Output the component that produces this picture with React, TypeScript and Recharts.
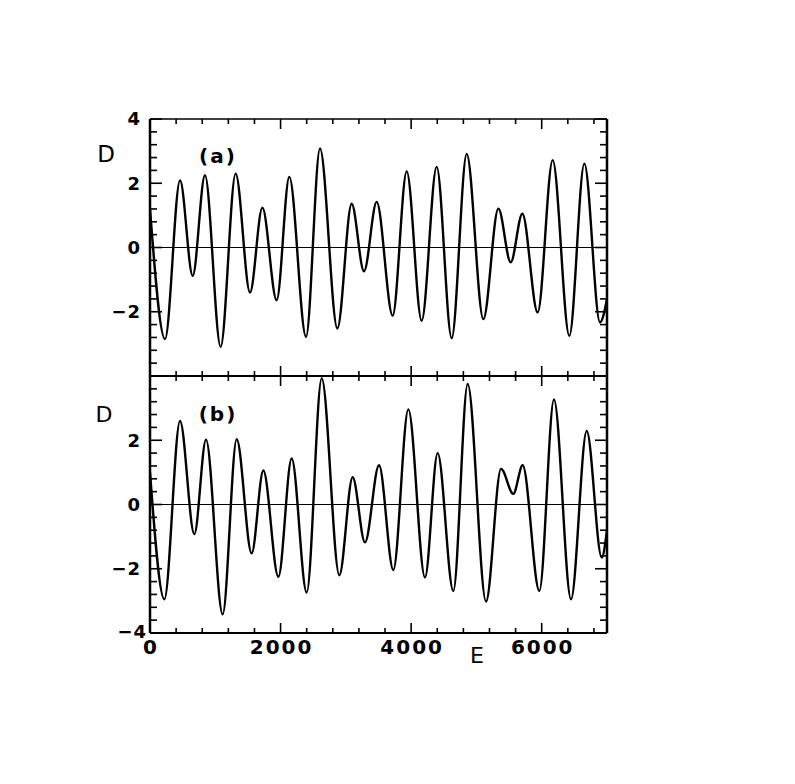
import { Line, LineChart, ReferenceLine, XAxis, YAxis } from "recharts";

const energyA = [
  0, 230, 460, 654, 842, 1082, 1312, 1532, 1721, 1940, 2134, 2390, 2604, 2870,
  3089, 3278, 3472, 3717, 3932, 4161, 4391, 4621, 4851, 5106, 5336, 5525, 5703,
  5938, 6168, 6423, 6653, 6893, 7000,
];
const signalA = [
  1.2, -2.85, 2.09, -0.88, 2.25, -3.09, 2.3, -1.4, 1.24, -1.64, 2.2, -2.78, 3.08,
  -2.52, 1.36, -0.74, 1.42, -2.12, 2.37, -2.28, 2.51, -2.82, 2.91, -2.23, 1.21,
  -0.46, 1.05, -2.02, 2.72, -2.75, 2.61, -2.33, -1.6,
];

// panel (b)
const energyB = [
  0, 220, 460, 679, 858, 1113, 1328, 1557, 1736, 1966, 2170, 2400, 2630, 2900,
  3104, 3293, 3508, 3727, 3957, 4212, 4406, 4646, 4866, 5147, 5377, 5565, 5708,
  5964, 6188, 6449, 6689, 6919, 7000,
];
const signalB = [
  1.0, -2.95, 2.6, -0.92, 2.02, -3.42, 2.03, -1.52, 1.06, -2.25, 1.43, -2.74, 3.93,
  -2.2, 0.85, -1.18, 1.22, -2.04, 2.96, -2.27, 1.6, -2.69, 3.75, -3.02, 1.11, 0.33,
  1.22, -2.69, 3.27, -2.95, 2.29, -1.65, -0.8,
];

const xTicks = [
  0, 400, 800, 1200, 1600, 2000, 2400, 2800, 3200, 3600, 4000, 4400, 4800, 5200,
  5600, 6000, 6400, 6800,
];
const xLabels = [0, 2000, 4000, 6000];
const yTicks = [
  -4, -3.6, -3.2, -2.8, -2.4, -2, -1.6, -1.2, -0.8, -0.4, 0, 0.4, 0.8, 1.2, 1.6, 2,
  2.4, 2.8, 3.2, 3.6, 4,
];
const yLabelsA = [4, 2, 0, -2];
const yLabelsB = [2, 0, -2, -4];

const dataA = energyA.map((e, i) => ({ e, d: signalA[i] }));
const dataB = energyB.map((e, i) => ({ e, d: signalB[i] }));

const ink = "#000";
const labelFont = "DejaVu Sans, Verdana, sans-serif";

function fmt(v: number) {
  return v < 0 ? "\u2212" + Math.abs(v) : String(v);
}

function XTick(props: any) {
  const { x, y, payload, side, labels } = props;
  const v = payload.value;
  const major = v % 2000 === 0;
  const len = major ? 10 : 5;
  const dir = side === "bottom" ? -1 : 1;
  const showLabel = labels && labels.includes(v);
  return (
    <g>
      <line x1={x} y1={y} x2={x} y2={y + dir * len} stroke={ink} strokeWidth={1.6} />
      {showLabel ? (
        <text
          x={x + 1}
          y={y + 21}
          textAnchor="middle"
          fill={ink}
          fontFamily={labelFont}
          fontWeight="bold"
          fontSize={20}
          letterSpacing={2}
        >
          {v}
        </text>
      ) : null}
    </g>
  );
}

function YTick(props: any) {
  const { x, y, payload, side, labels } = props;
  const v = payload.value;
  const major = Math.abs(v % 2) < 1e-6;
  const len = major ? 12 : 7;
  const dir = side === "left" ? 1 : -1;
  const showLabel = labels && labels.includes(v);
  return (
    <g>
      <line x1={x} y1={y} x2={x + dir * len} y2={y} stroke={ink} strokeWidth={1.6} />
      {showLabel ? (
        <text
          x={v === -4 ? x - 3 : x - 9}
          y={v === -4 ? y - 1 : y}
          dy="0.36em"
          textAnchor="end"
          fill={ink}
          fontFamily={labelFont}
          fontWeight="bold"
          fontSize={18}
          letterSpacing={1}
        >
          {fmt(v)}
        </text>
      ) : null}
    </g>
  );
}

function Panel({
  data,
  top,
  yLabels,
  showX,
}: {
  data: { e: number; d: number }[];
  top: number;
  yLabels: number[];
  showX: boolean;
}) {
  return (
    <div style={{ position: "absolute", left: 0, top: 0 }}>
      <LineChart
        width={795}
        height={784}
        data={data}
        margin={{ top: top - 10, right: 178, bottom: 784 - top - 257 - 10, left: 110 }}
      >
        <XAxis
          xAxisId="b"
          type="number"
          dataKey="e"
          domain={[0, 7000]}
          allowDataOverflow
          ticks={xTicks}
          interval={0}
          height={10}
          tickSize={0}
          tickMargin={0}
          tickLine={false}
          axisLine={{ stroke: ink, strokeWidth: 2 }}
          tick={<XTick side="bottom" labels={showX ? xLabels : []} />}
        />
        <XAxis
          xAxisId="t"
          orientation="top"
          type="number"
          dataKey="e"
          domain={[0, 7000]}
          allowDataOverflow
          ticks={xTicks}
          interval={0}
          height={10}
          tickSize={0}
          tickMargin={0}
          tickLine={false}
          axisLine={{ stroke: ink, strokeWidth: 1.6 }}
          tick={<XTick side="top" labels={[]} />}
        />
        <YAxis
          yAxisId="l"
          type="number"
          domain={[-4, 4]}
          allowDataOverflow
          ticks={yTicks}
          interval={0}
          width={40}
          tickSize={0}
          tickMargin={0}
          tickLine={false}
          axisLine={{ stroke: ink, strokeWidth: 2.5 }}
          tick={<YTick side="left" labels={yLabels} />}
        />
        <YAxis
          yAxisId="r"
          orientation="right"
          type="number"
          domain={[-4, 4]}
          allowDataOverflow
          ticks={yTicks}
          interval={0}
          width={10}
          tickSize={0}
          tickMargin={0}
          tickLine={false}
          axisLine={{ stroke: ink, strokeWidth: 2.5 }}
          tick={<YTick side="right" labels={[]} />}
        />
        <ReferenceLine xAxisId="b" yAxisId="l" y={0} stroke={ink} strokeWidth={1} />
        <Line
          xAxisId="b"
          yAxisId="l"
          type="monotone"
          dataKey="d"
          stroke={ink}
          strokeWidth={2.4}
          dot={false}
          isAnimationActive={false}
        />
        <Line
          xAxisId="t"
          yAxisId="r"
          type="monotone"
          dataKey="d"
          stroke="none"
          dot={false}
          legendType="none"
          isAnimationActive={false}
        />
      </LineChart>
    </div>
  );
}

export default function App() {
  return (
    <div
      style={{
        position: "absolute",
        left: 0,
        top: 0,
        width: 795,
        height: 784,
        background: "#fff",
      }}
    >
      <Panel data={dataA} top={119} yLabels={yLabelsA} showX={false} />
      <Panel data={dataB} top={376} yLabels={yLabelsB} showX={true} />
      <svg
        width={795}
        height={784}
        style={{ position: "absolute", left: 0, top: 0, pointerEvents: "none" }}
      >
        <text x={106} y={162} textAnchor="middle" fontFamily={labelFont} fontSize={23} fill={ink}>
          D
        </text>
        <text
          x={218}
          y={163}
          textAnchor="middle"
          fontFamily={labelFont}
          fontWeight="bold"
          fontSize={20}
          letterSpacing={2}
          fill={ink}
        >
          (a)
        </text>
        <text x={104} y={422} textAnchor="middle" fontFamily={labelFont} fontSize={22} fill={ink}>
          D
        </text>
        <text
          x={218}
          y={421}
          textAnchor="middle"
          fontFamily={labelFont}
          fontWeight="bold"
          fontSize={20}
          letterSpacing={2}
          fill={ink}
        >
          (b)
        </text>
        <text x={477} y={663} textAnchor="middle" fontFamily={labelFont} fontSize={22} fill={ink}>
          E
        </text>
      </svg>
    </div>
  );
}
